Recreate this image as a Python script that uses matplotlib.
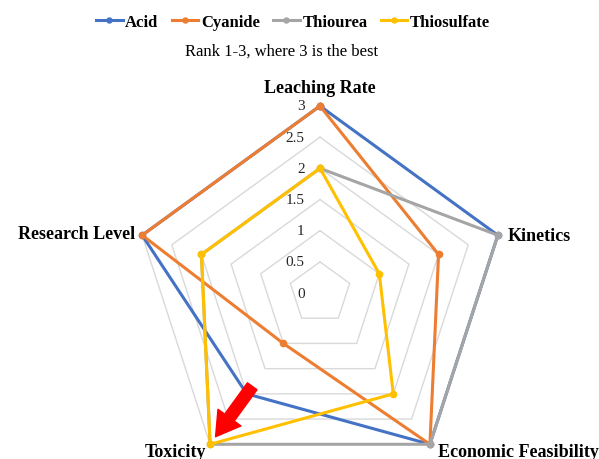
import matplotlib
matplotlib.use('Agg')
import matplotlib.pyplot as plt
import numpy as np

plt.rcParams['font.family'] = ['Liberation Serif', 'DejaVu Serif']

# data
categories = ['Leaching Rate', 'Kinetics', 'Economic Feasibility', 'Toxicity', 'Research Level']
acid = [3, 3, 3, 2, 3]
cyanide = [3, 2, 3, 1, 3]
thiourea = [2, 3, 3, 3, 2]
thiosulfate = [2, 1, 2, 3, 2]
series_names = ['Acid', 'Cyanide', 'Thiourea', 'Thiosulfate']
series_values = [acid, cyanide, thiourea, thiosulfate]
colors = ['#4472C4', '#ED7D31', '#A5A5A5', '#FFC000']
rings = [0.5, 1, 1.5, 2, 2.5, 3]
ring_labels = ['0', '0.5', '1', '1.5', '2', '2.5', '3']

W, H = 599, 460
fig = plt.figure(figsize=(W / 100, H / 100), dpi=100)

# polar axes centred at (320, 294) px, radius 187 px for value 3
cx, cy, R = 320, 294, 187
ax = fig.add_axes([(cx - R) / W, (H - cy - R) / H, 2 * R / W, 2 * R / H], projection='polar')
ax.set_theta_offset(np.pi / 2)
ax.set_theta_direction(-1)
ax.set_ylim(0, 3)
ax.grid(False)
ax.set_xticks([])
ax.set_yticks([])
ax.spines['polar'].set_visible(False)
ax.patch.set_visible(False)

n = len(categories)
theta = np.arange(n) * 2 * np.pi / n
theta_c = np.append(theta, theta[0])

# pentagon gridlines
for r in rings:
    ax.plot(theta_c, [r] * (n + 1), color='#d9d9d9', lw=1, zorder=1, clip_on=False)

# radial labels
for i, lab in enumerate(ring_labels):
    ax.annotate(lab, xy=(0, i * 0.5), xytext=(-11, 0), textcoords='offset points',
                ha='right', va='center', fontsize=11, color='#262626')

# series
handles = []
for name, vals, c in zip(series_names, series_values, colors):
    v = list(vals) + [vals[0]]
    h, = ax.plot(theta_c, v, color=c, lw=2.2, marker='o', markersize=4.5,
                 label=name, zorder=3, clip_on=False)
    handles.append(h)

# category labels
lab_pos = [
    ((0, 7), 'center', 'bottom'),
    ((7, 0), 'left', 'center'),
    ((6, -5), 'left', 'center'),
    ((-3, -5), 'right', 'center'),
    ((-5, 1), 'right', 'center'),
]
for t, cat, (off, ha, va) in zip(theta, categories, lab_pos):
    ax.annotate(cat, xy=(t, 3), xytext=off, textcoords='offset points',
                ha=ha, va=va, fontsize=13, fontweight='bold', annotation_clip=False)

# red arrow pointing to toxicity
ax.annotate('', xy=(theta[3], 2.85), xytext=(theta[3], 1.85),
            arrowprops=dict(arrowstyle='simple,head_width=1.2,head_length=1.0,tail_width=0.5',
                            fc='#FF0000', ec='#FF0000', mutation_scale=17, shrinkA=0, shrinkB=0),
            zorder=5, annotation_clip=False)

fig.legend(handles=handles, labels=series_names, loc='center', bbox_to_anchor=(293 / W, 1 - 23 / H),
           ncol=4, frameon=False, handlelength=1.6, handletextpad=0.15, columnspacing=0.8,
           numpoints=1, markerscale=0.8, prop={'weight': 'bold', 'size': 12})
fig.text(282 / W, 1 - 52 / H, 'Rank 1-3, where 3 is the best', ha='center', va='center', fontsize=12)

fig.savefig('out.png', dpi=100)
